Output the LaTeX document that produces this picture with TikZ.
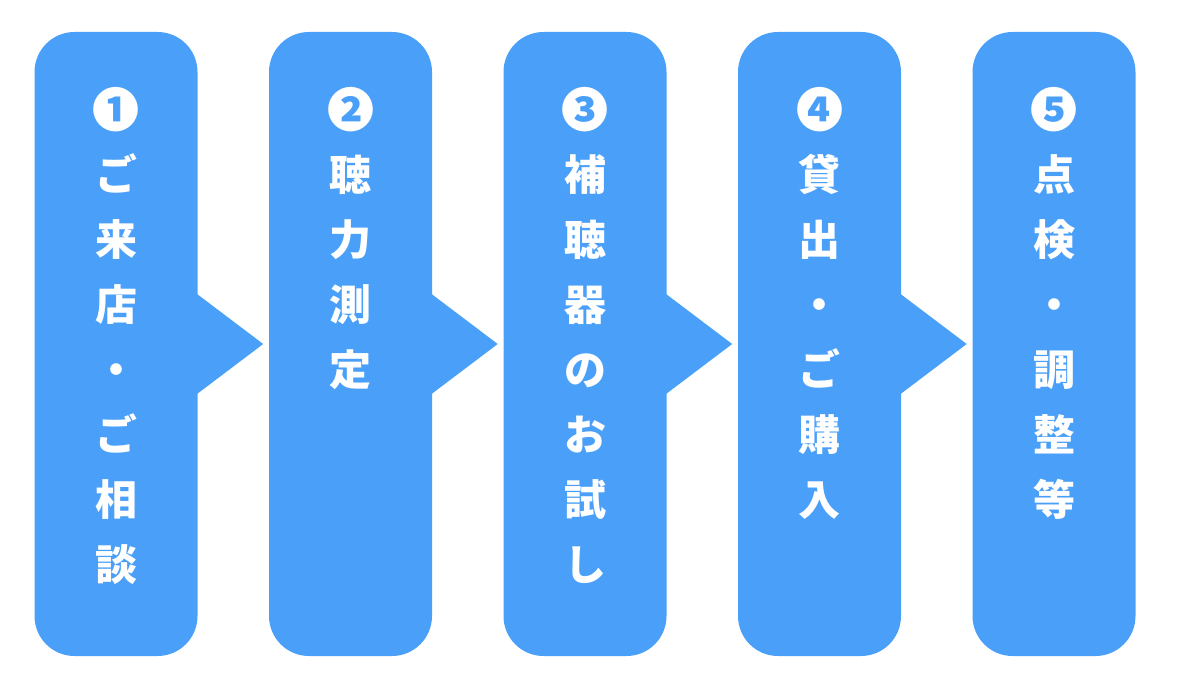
\documentclass[tikz,border=0pt]{standalone}
\usepackage{fontspec}
\newfontfamily\jp{Noto Sans CJK JP}
\definecolor{boxblue}{HTML}{4AA0F9}
\begin{document}
\begin{tikzpicture}[x=1pt,y=-1pt,
  stepbox/.style={fill=boxblue, draw=none, rounded corners=40pt, minimum width=163pt, minimum height=624pt, inner sep=0pt},
  pointer/.style={fill=boxblue, draw=none},
  glyph/.style={text=white, font=\jp\bfseries\fontsize{42}{42}\selectfont, inner sep=0pt, anchor=center, text height=37pt, text depth=5pt},
  numglyph/.style={glyph, font=\jp\bfseries\fontsize{47}{47}\selectfont, text height=41.4pt, text depth=5.6pt}]
\useasboundingbox (0,0) rectangle (1183,693);
\foreach \i/\n/\chars in {1/❶/{ご,来,店,・,ご,相,談},2/❷/{聴,力,測,定},3/❸/{補,聴,器,の,お,試,し},4/❹/{貸,出,・,ご,購,入},5/❺/{点,検,・,調,整,等}}{
  \pgfmathsetmacro{\cx}{116+234.5*(\i-1)}
  \node[stepbox] (b\i) at (\cx,344) {};
  \ifnum\i<5
    \fill[pointer] ([xshift=-2pt]b\i.east) ++(0,-51) -- ++(67.5,51) -- ++(-67.5,51) -- cycle;
  \fi
  \node[numglyph] (n\i) at (\cx,110) {\n};
  \foreach \c [count=\j] in \chars {
    \node[glyph] (c\i-\j) at (\cx,109+65*\j) {\c};
  }
}
\end{tikzpicture}
\end{document}
